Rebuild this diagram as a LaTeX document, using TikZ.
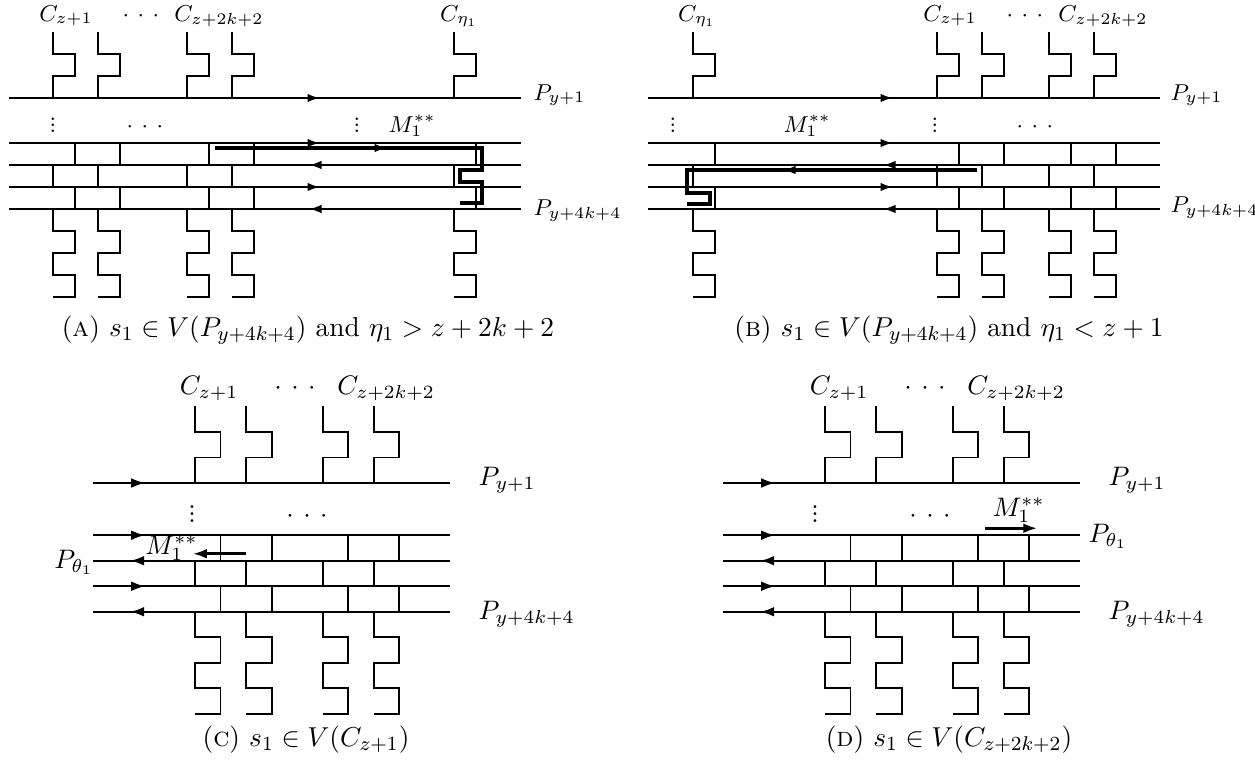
\documentclass[tikz,border=0pt]{standalone}
\usepackage{fix-cm}
\usepackage{tikz}
\usetikzlibrary{arrows.meta}

\begin{document}
\begin{tikzpicture}[x=0.4pt, y=-0.4pt]
\tikzset{rail style/.style={line width=0.7pt}}
\tikzset{arr style/.style={line width=0.9pt, -{Latex[length=5pt,width=3.4pt]}}}
\tikzset{big arr style/.style={line width=0.9pt, -{Latex[length=5.6pt,width=3.9pt]}}}
\tikzset{walk style/.style={line width=1.3pt}}
\tikzset{lab style/.style={inner sep=0pt, anchor=base, font=\fontsize{9.2}{11}\selectfont}}
\tikzset{big style/.style={inner sep=0pt, anchor=base, font=\fontsize{10.7}{13}\selectfont}}
\tikzset{cap style/.style={inner sep=0pt, anchor=base, font=\fontsize{10.95}{13.6}\selectfont}}
\useasboundingbox (0,0) rectangle (1255,767);

% rails, combs and bricks of the four pictures
\foreach \ox/\oy/\sc/\len/\cols in {9/98/1/512/{44,89,178,223,445}, 648/98/1/512/{45,289,334,401,446}, 93/483/1.16/308/{88,132,198,242}, 723/483/1.16/308/{88,132,198,242}}{
\begin{scope}[shift={(\ox,\oy)}, scale=\sc, rail style]
\foreach \r in {0,45,67,89,111} \draw (0,\r) -- (\len,\r);
\foreach \c in \cols {
\draw (\c,-66) -- ++(0,22) -- ++(22,0) -- ++(0,22) -- ++(-22,0) -- ++(0,22);
\draw (\c+22,45) -- ++(0,22) (\c,67) -- ++(0,22) (\c+22,89) -- ++(0,22);
\draw (\c,111) -- ++(0,22) -- ++(22,0) -- ++(0,22) -- ++(-22,0) -- ++(0,22) -- ++(22,0) -- ++(0,22) -- ++(-22,0);
}
\end{scope}}

% (a)
\begin{scope}[shift={(9,98)}]
\foreach \r in {0,45,89} \draw[arr style] (268,\r) -- (311,\r);
\foreach \r in {67,111} \draw[arr style] (344,\r) -- (300,\r);
\draw[walk style] (206,50) -- (473,50) -- (473,72) -- (451,72) -- (451,84) -- (473,84) -- (473,105) -- (451,105);
\draw[walk style, -{Latex[length=5pt,width=3.4pt]}] (330,50) -- (378,50);
\end{scope}
\node[lab style] (CA1) at (66,21) {$C_{z+1}$};
\node[lab style] (DA1) at (141,21) {$\cdotp\kern1.8pt\cdotp\kern1.8pt\cdotp$};
\node[lab style] (CA2) at (219,21) {$C_{z+2k+2}$};
\node[lab style] (CA3) at (459,21) {$C_{\eta_1}$};
\node[lab style, anchor=base west] (PA1) at (533,100) {$P_{y+1}$};
\node[lab style, anchor=base west] (PA2) at (533,215) {$P_{y+4k+4}$};
\node[lab style] (VA1) at (53,132) {\vbox{\baselineskip2.4pt\lineskiplimit0pt\hbox{.}\hbox{.}\hbox{.}}};
\node[lab style] (DA2) at (145,132) {$\cdotp\kern1.8pt\cdotp\kern1.8pt\cdotp$};
\node[lab style] (VA2) at (357,132) {\vbox{\baselineskip2.4pt\lineskiplimit0pt\hbox{.}\hbox{.}\hbox{.}}};
\node[lab style, anchor=base west] (MA) at (388,132) {$M_1^{**}$};
\node[cap style] (capA) at (308,336) {(\textsc{a})~$s_1\in V(P_{y+4k+4})$ and $\eta_1>z+2k+2$};

% (b)
\begin{scope}[shift={(648,98)}]
\foreach \r in {0,45,89} \draw[arr style] (200,\r) -- (245,\r);
\foreach \r in {67,111} \draw[arr style] (280,\r) -- (235,\r);
\draw[walk style] (329,72) -- (39,72) -- (39,95) -- (62,95) -- (62,106) -- (39,106);
\draw[walk style, -{Latex[length=5pt,width=3.4pt]}] (180,72) -- (135,72);
\end{scope}
\node[lab style] (CB3) at (697,21) {$C_{\eta_1}$};
\node[lab style] (CB1) at (950,21) {$C_{z+1}$};
\node[lab style] (DB1) at (1025,21) {$\cdotp\kern1.8pt\cdotp\kern1.8pt\cdotp$};
\node[lab style] (CB2) at (1103,21) {$C_{z+2k+2}$};
\node[lab style, anchor=base west] (PB1) at (1170,100) {$P_{y+1}$};
\node[lab style, anchor=base west] (PB2) at (1170,212) {$P_{y+4k+4}$};
\node[lab style] (VB1) at (673,132) {\vbox{\baselineskip2.4pt\lineskiplimit0pt\hbox{.}\hbox{.}\hbox{.}}};
\node[lab style] (VB2) at (935,132) {\vbox{\baselineskip2.4pt\lineskiplimit0pt\hbox{.}\hbox{.}\hbox{.}}};
\node[lab style] (DB2) at (1035,132) {$\cdotp\kern1.8pt\cdotp\kern1.8pt\cdotp$};
\node[lab style, anchor=base west] (MB) at (783,132) {$M_1^{**}$};
\node[cap style] (capB) at (949,336) {(\textsc{b})~$s_1\in V(P_{y+4k+4})$ and $\eta_1<z+1$};

% (c)
\begin{scope}[shift={(93,483)}, scale=1.16]
\foreach \r in {0,45,89} \draw[big arr style] (0,\r) -- (45,\r);
\foreach \r in {67,111} \draw[big arr style] (77,\r) -- (32,\r);
\draw[big arr style, line width=1.3pt] (132,61) -- (86,61);
\end{scope}
\node[big style] (CC1) at (209,394) {$C_{z+1}$};
\node[big style] (DC1) at (295,394) {$\cdotp\kern2pt\cdotp\kern2pt\cdotp$};
\node[big style] (CC2) at (386,394) {$C_{z+2k+2}$};
\node[big style, anchor=base west] (PC1) at (478,485) {$P_{y+1}$};
\node[big style, anchor=base west] (PC2) at (478,619) {$P_{y+4k+4}$};
\node[big style, anchor=base west] (PC3) at (54,568) {$P_{\theta_1}$};
\node[big style] (VC1) at (192,522) {\vbox{\baselineskip2.8pt\lineskiplimit0pt\hbox{.}\hbox{.}\hbox{.}}};
\node[big style] (DC2) at (307,522) {$\cdotp\kern2pt\cdotp\kern2pt\cdotp$};
\node[big style, anchor=base west] (MC) at (145,554) {$M_1^{**}$};
\node[cap style] (capC) at (306,746) {(\textsc{c})~$s_1\in V(C_{z+1})$};

% (d)
\begin{scope}[shift={(723,483)}, scale=1.16]
\foreach \r in {0,45,89} \draw[big arr style] (0,\r) -- (45,\r);
\foreach \r in {67,111} \draw[big arr style] (77,\r) -- (32,\r);
\draw[big arr style, line width=1.3pt] (226,39) -- (271,39);
\end{scope}
\node[big style] (CD1) at (839,394) {$C_{z+1}$};
\node[big style] (DD1) at (925,394) {$\cdotp\kern2pt\cdotp\kern2pt\cdotp$};
\node[big style] (CD2) at (1016,394) {$C_{z+2k+2}$};
\node[big style, anchor=base west] (PD1) at (1108,485) {$P_{y+1}$};
\node[big style, anchor=base west] (PD2) at (1108,619) {$P_{y+4k+4}$};
\node[big style, anchor=base west] (PD3) at (1088,542) {$P_{\theta_1}$};
\node[big style] (VD1) at (815,522) {\vbox{\baselineskip2.8pt\lineskiplimit0pt\hbox{.}\hbox{.}\hbox{.}}};
\node[big style] (DD2) at (930,522) {$\cdotp\kern2pt\cdotp\kern2pt\cdotp$};
\node[big style, anchor=base west] (MD) at (992,516) {$M_1^{**}$};
\node[cap style] (capD) at (949,746) {(\textsc{d})~$s_1\in V(C_{z+2k+2})$};
\end{tikzpicture}
\end{document}
